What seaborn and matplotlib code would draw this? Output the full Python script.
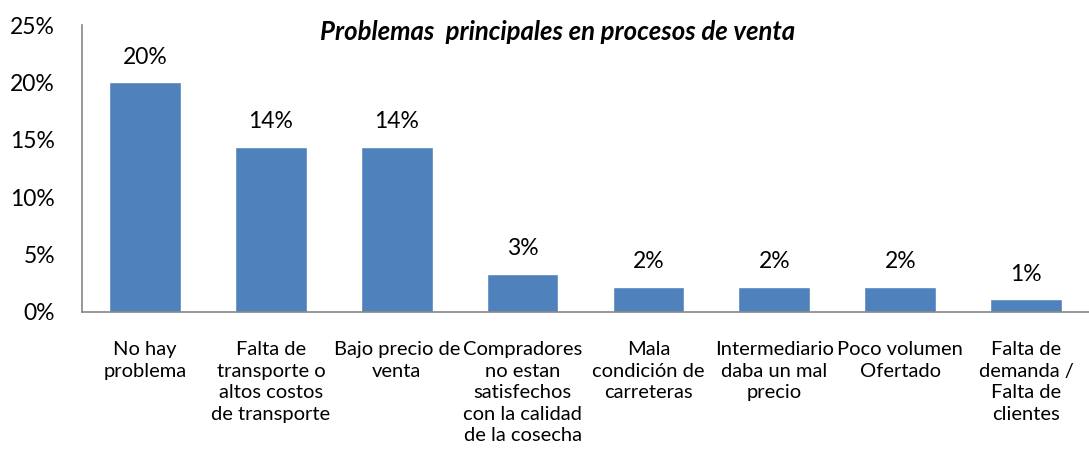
import matplotlib
matplotlib.use("Agg")
import matplotlib.pyplot as plt
import seaborn as sns
import pandas as pd

# data
categories = [
    "No hay\nproblema",
    "Falta de\ntransporte o\naltos costos\nde transporte",
    "Bajo precio de\nventa",
    "Compradores\nno estan\nsatisfechos\ncon la calidad\nde la cosecha",
    "Mala\ncondición de\ncarreteras",
    "Intermediario\ndaba un mal\nprecio",
    "Poco volumen\nOfertado",
    "Falta de\ndemanda /\nFalta de\nclientes",
]
values = [20.0, 14.4, 14.4, 3.3, 2.2, 2.2, 2.2, 1.1]
y_ticks = [0, 5, 10, 15, 20, 25]

sns.set_theme(style="white")
plt.rcParams["font.family"] = ["Lato", "DejaVu Sans"]
plt.rcParams["text.color"] = "black"
plt.rcParams["xtick.color"] = "black"
plt.rcParams["ytick.color"] = "black"

df = pd.DataFrame({"cat": categories, "val": values})

fig = plt.figure(figsize=(10.89, 4.59), dpi=100)
ax = fig.add_axes([0.0753, 0.3203, 0.9247, 0.6252])

sns.barplot(data=df, x="cat", y="val", color="#4F81BD", saturation=1,
            width=0.57, ax=ax)

ax.set_ylim(0, 25)
ax.set_yticks(y_ticks)
ax.set_yticklabels([f"{t}%" for t in y_ticks], fontsize=16.5)
ax.tick_params(axis="y", length=0, pad=19.5)
ax.tick_params(axis="x", length=0, pad=21, labelsize=14.5)
for lbl in ax.get_xticklabels():
    lbl.set_verticalalignment("top")
    lbl.set_linespacing(1.32)
ax.set_xlabel("")
ax.set_ylabel("")

for s in ["top", "right"]:
    ax.spines[s].set_visible(False)
for s in ["left", "bottom"]:
    ax.spines[s].set_color("#868686")
    ax.spines[s].set_linewidth(1.2)

for i, v in enumerate(values):
    ax.text(i, v + 2.2, f"{v:.0f}%", ha="center", va="center", fontsize=16.5)

fig.text(0.512, 0.93, "Problemas  principales en procesos de venta",
         ha="center", va="center", fontsize=18.5, fontweight="bold",
         fontstyle="italic")

fig.savefig("out.png", dpi=100)
